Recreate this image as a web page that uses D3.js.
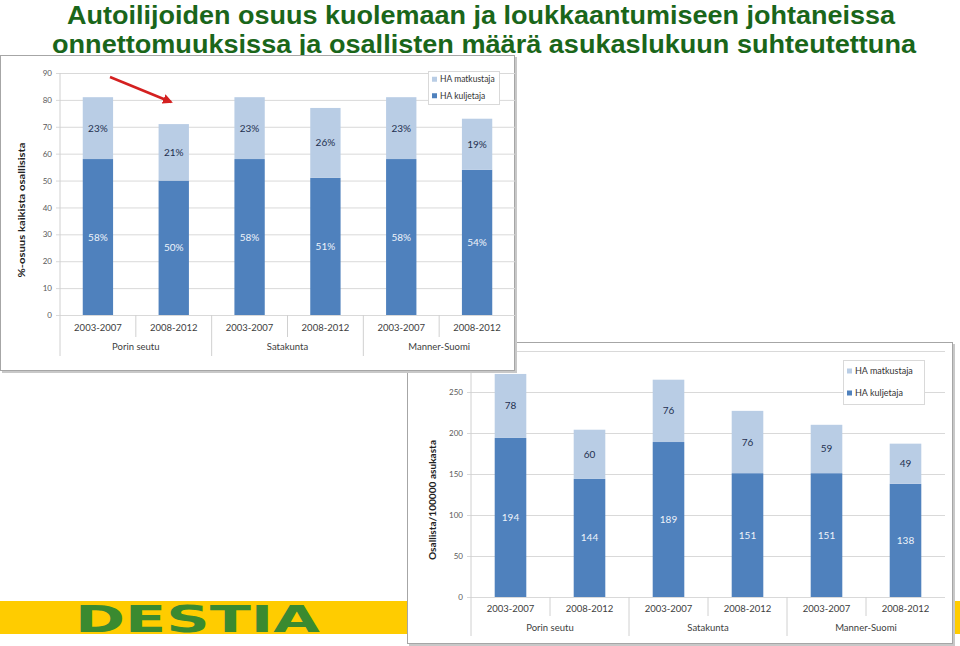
<!DOCTYPE html>
<html>
<head>
<meta charset="utf-8">
<script src="https://cdn.jsdelivr.net/npm/d3@7"></script>
<style>
  html, body { margin: 0; padding: 0; background: #fff; }
  svg { display: block; }
</style>
</head>
<body>
<svg id="c" width="960" height="646"></svg>
<script>
// ---------- DATA ----------
const titleLines = [
  "Autoilijoiden osuus kuolemaan ja loukkaantumiseen johtaneissa",
  "onnettomuuksissa ja osallisten määrä asukaslukuun suhteutettuna"
];
const periods = ["2003-2007", "2008-2012", "2003-2007", "2008-2012", "2003-2007", "2008-2012"];
const regions = ["Porin seutu", "Satakunta", "Manner-Suomi"];
const seriesNames = ["HA matkustaja", "HA kuljetaja"];

// Chart 1: share (%) of all involved
const shareDriver = [58, 50, 58, 51, 58, 54];
const sharePassenger = [23, 21, 23, 26, 23, 19];
const shareTicks = [0, 10, 20, 30, 40, 50, 60, 70, 80, 90];
const shareTitle = "%-osuus kaikista osallisista";

// Chart 2: involved per 100000 inhabitants
const rateDriver = [194, 144, 189, 151, 151, 138];
const ratePassenger = [78, 60, 76, 76, 59, 49];
const rateTicks = [0, 50, 100, 150, 200, 250, 300];
const rateHiddenTickLabels = [300]; // covered by the first chart in the reference
const rateTitle = "Osallista/100000 asukasta";

const logoText = "DESTIA";

// ---------- STYLE ----------
const DARK = "#4f81bd", LIGHT = "#b9cde5";
const FONT = "Lato, 'Open Sans', sans-serif";
const svg = d3.select("#c");

// Title
const title = svg.append("g");
title.append("text").attr("x", 481).attr("y", 24).attr("text-anchor", "middle")
  .attr("font-family", "'Liberation Sans', Arial, sans-serif").attr("font-weight", "bold")
  .attr("font-size", 26).attr("fill", "#1a661a")
  .attr("textLength", 828).attr("lengthAdjust", "spacingAndGlyphs").text(titleLines[0]);
title.append("text").attr("x", 484).attr("y", 53).attr("text-anchor", "middle")
  .attr("font-family", "'Liberation Sans', Arial, sans-serif").attr("font-weight", "bold")
  .attr("font-size", 26).attr("fill", "#1a661a")
  .attr("textLength", 864).attr("lengthAdjust", "spacingAndGlyphs").text(titleLines[1]);

// Yellow band + logo
svg.append("rect").attr("x", 0).attr("y", 601).attr("width", 960).attr("height", 33).attr("fill", "#ffcc00");
svg.append("text").attr("x", 75).attr("y", 632)
  .attr("font-family", "'DejaVu Sans', sans-serif").attr("font-weight", "bold")
  .attr("font-size", 38).attr("fill", "#3a8a30")
  .attr("textLength", 245).attr("lengthAdjust", "spacingAndGlyphs").text(logoText);

function drawChart(g, cfg) {
  // frame
  g.append("rect").attr("x", cfg.box[0] + 2).attr("y", cfg.box[1] + 2)
    .attr("width", cfg.box[2]).attr("height", cfg.box[3]).attr("fill", "#c8c8c8");
  g.append("rect").attr("x", cfg.box[0] + 0.5).attr("y", cfg.box[1] + 0.5)
    .attr("width", cfg.box[2] - 1).attr("height", cfg.box[3] - 1)
    .attr("fill", "#fff").attr("stroke", "#a6a6a6");

  const x = d3.scaleBand().domain(d3.range(periods.length)).range(cfg.xr)
    .paddingInner(0.6).paddingOuter(0.3);
  const y = d3.scaleLinear().domain(cfg.yd).range(cfg.yr);

  // gridlines
  const hidden = cfg.hidden || [];
  const yAxis = d3.axisLeft(y).tickValues(cfg.ticks)
    .tickFormat(v => hidden.includes(v) ? "" : v)
    .tickSize(cfg.xr[1] - cfg.xr[0] + 4).tickPadding(4);
  const ga = g.append("g").attr("transform", `translate(${cfg.xr[1]},0)`).call(yAxis);
  ga.select(".domain").remove();
  ga.selectAll("line").attr("stroke", "#d9d9d9");
  ga.selectAll("text").attr("font-family", FONT).attr("font-size", cfg.tickFs).attr("fill", "#595959");
  ga.selectAll("text").filter(function () { return this.textContent === ""; }).remove();

  // bars
  const stacks = periods.map((p, i) => ({ i, d: cfg.driver[i], p: cfg.passenger[i] }));
  g.selectAll(".bd").data(stacks).join("rect")
    .attr("x", s => x(s.i)).attr("width", x.bandwidth())
    .attr("y", s => y(s.d)).attr("height", s => y(0) - y(s.d)).attr("fill", DARK);
  g.selectAll(".bp").data(stacks).join("rect")
    .attr("x", s => x(s.i)).attr("width", x.bandwidth())
    .attr("y", s => y(s.d + s.p)).attr("height", s => y(s.d) - y(s.d + s.p)).attr("fill", LIGHT);

  // labels
  g.selectAll(".ld").data(stacks).join("text")
    .attr("x", s => x(s.i) + x.bandwidth() / 2).attr("y", s => y(s.d / 2)).attr("dy", "0.35em")
    .attr("text-anchor", "middle").attr("font-family", FONT).attr("font-size", cfg.labFs)
    .attr("fill", "#eef3fa").text(s => s.d + cfg.suffix);
  g.selectAll(".lp").data(stacks).join("text")
    .attr("x", s => x(s.i) + x.bandwidth() / 2).attr("y", s => y(s.d + s.p / 2)).attr("dy", "0.35em")
    .attr("text-anchor", "middle").attr("font-family", FONT).attr("font-size", cfg.labFs)
    .attr("fill", "#1f3050").text(s => s.p + cfg.suffix);

  // axis vertical line
  g.append("line").attr("x1", cfg.xr[0]).attr("x2", cfg.xr[0])
    .attr("y1", cfg.yr[1]).attr("y2", cfg.groupBottom).attr("stroke", "#d0d0d0");

  // category separators
  const step = x.step();
  for (let k = 1; k < periods.length; k++) {
    const sx = cfg.xr[0] + k * step;
    const isGroup = k % 2 === 0;
    g.append("line").attr("x1", sx).attr("x2", sx).attr("y1", y(0))
      .attr("y2", isGroup ? cfg.groupBottom : cfg.catBottom).attr("stroke", "#d0d0d0");
  }
  // category labels
  g.selectAll(".cl").data(periods).join("text")
    .attr("x", (p, i) => x(i) + x.bandwidth() / 2).attr("y", cfg.catY).attr("dy", "0.35em")
    .attr("text-anchor", "middle").attr("font-family", FONT).attr("font-size", cfg.catFs)
    .attr("fill", "#404040").text(p => p);
  g.selectAll(".gl").data(regions).join("text")
    .attr("x", (r, i) => cfg.xr[0] + (i * 2 + 1) * step).attr("y", cfg.grpY).attr("dy", "0.35em")
    .attr("text-anchor", "middle").attr("font-family", FONT).attr("font-size", cfg.catFs)
    .attr("fill", "#404040").text(r => r);

  // y title
  g.append("text").attr("transform", `translate(${cfg.titleX},${cfg.titleY}) rotate(-90)`)
    .attr("dy", "0.35em").attr("text-anchor", "middle").attr("font-family", FONT)
    .attr("font-weight", "bold").attr("font-size", cfg.titleFs).attr("fill", "#222")
    .attr("textLength", cfg.titleLen).attr("lengthAdjust", "spacingAndGlyphs").text(cfg.title);

  // legend
  const L = cfg.legend;
  g.append("rect").attr("x", L[0] + 0.5).attr("y", L[1] + 0.5).attr("width", L[2]).attr("height", L[3])
    .attr("fill", "#fff").attr("stroke", "#d9d9d9");
  const colors = [LIGHT, DARK];
  seriesNames.forEach((n, k) => {
    const cy = L[1] + L[3] * (k === 0 ? 0.25 : 0.75);
    g.append("rect").attr("x", L[0] + 4).attr("y", cy - 2.5).attr("width", 5).attr("height", 5).attr("fill", colors[k]);
    g.append("text").attr("x", L[0] + 12).attr("y", cy).attr("dy", "0.35em")
      .attr("font-family", FONT).attr("font-size", cfg.legFs).attr("fill", "#333").text(n);
  });
}

// Chart 2 (drawn first, partially covered by chart 1)
drawChart(svg.append("g"), {
  box: [407, 342, 546, 302],
  xr: [471, 945], yd: [0, 300], yr: [597, 351], ticks: rateTicks, hidden: rateHiddenTickLabels,
  driver: rateDriver, passenger: ratePassenger, suffix: "",
  tickFs: 8, labFs: 10, catFs: 9.5,
  catY: 609, grpY: 628, catBottom: 616, groupBottom: 636,
  title: rateTitle, titleX: 432, titleY: 500, titleLen: 120, titleFs: 10,
  legend: [843, 360, 81, 44], legFs: 9
});

// Chart 1
drawChart(svg.append("g"), {
  box: [0, 55, 515, 316],
  xr: [60, 515], yd: [0, 90], yr: [315, 73], ticks: shareTicks,
  driver: shareDriver, passenger: sharePassenger, suffix: "%",
  tickFs: 8, labFs: 10, catFs: 9.5,
  catY: 328, grpY: 347, catBottom: 337, groupBottom: 356,
  title: shareTitle, titleX: 21, titleY: 210, titleLen: 135, titleFs: 10,
  legend: [428, 71, 71, 33], legFs: 8.5
});

// Red arrow
const defs = svg.append("defs");
defs.append("marker").attr("id", "ah").attr("viewBox", "0 0 10 10").attr("refX", 8).attr("refY", 5)
  .attr("markerWidth", 4).attr("markerHeight", 4).attr("orient", "auto")
  .append("path").attr("d", "M0,0 L10,5 L0,10 Z").attr("fill", "#d42020");
svg.append("line").attr("x1", 110).attr("y1", 77).attr("x2", 171).attr("y2", 102)
  .attr("stroke", "#d42020").attr("stroke-width", 2.5).attr("marker-end", "url(#ah)");
</script>
</body>
</html>
